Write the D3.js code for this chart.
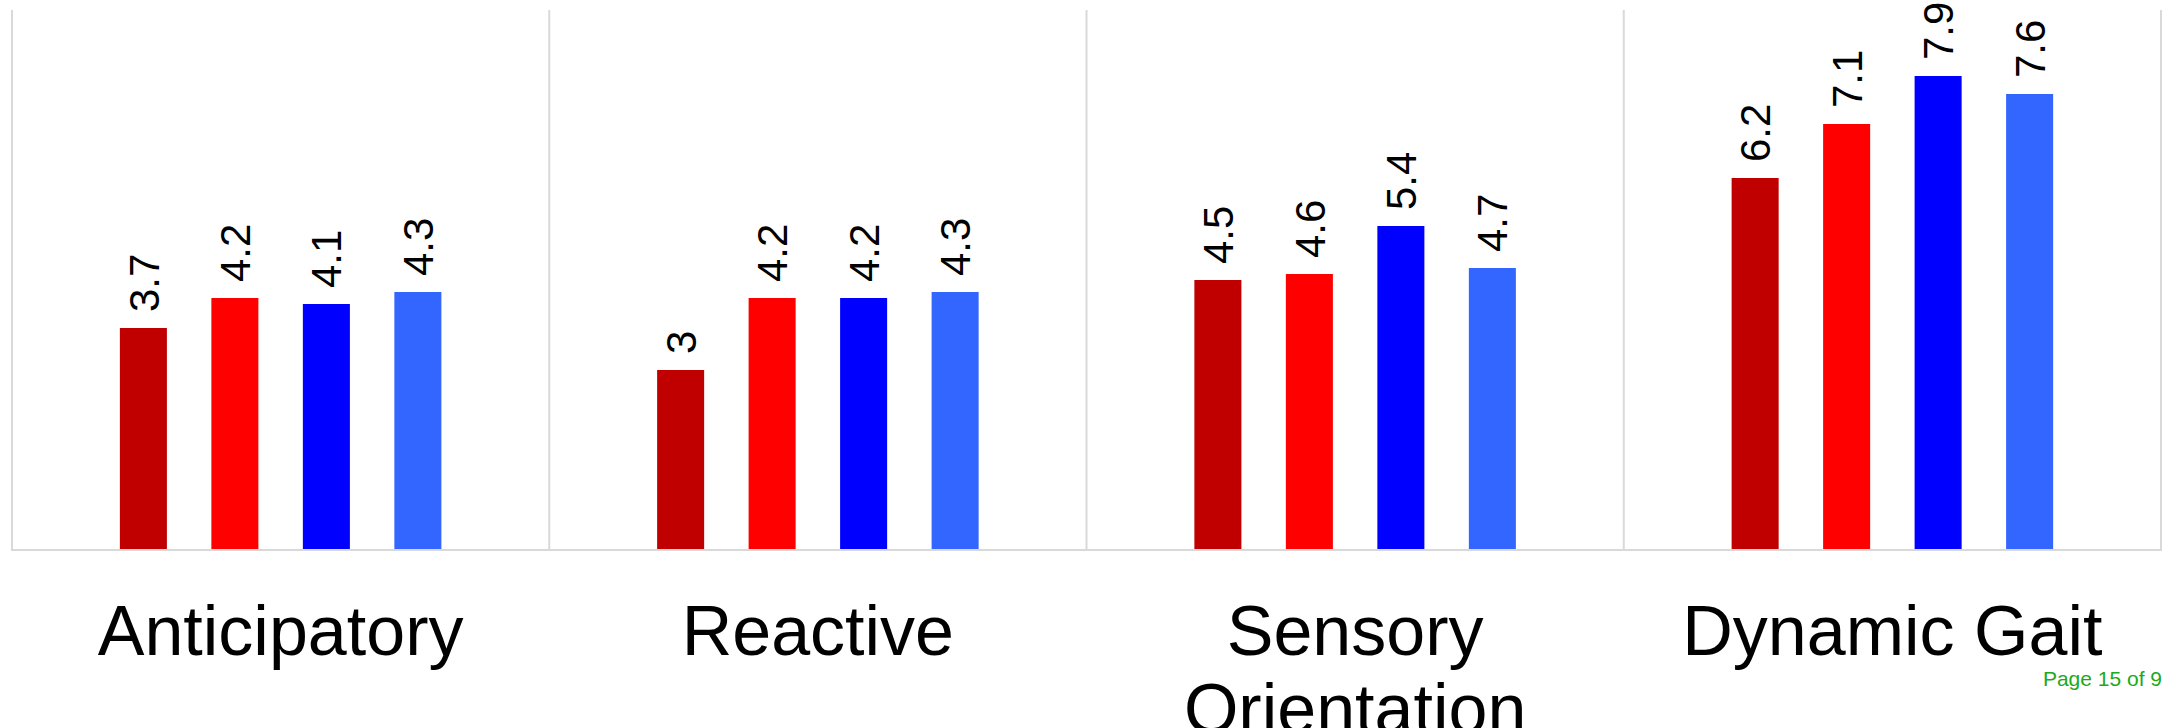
<!DOCTYPE html>
<html>
<head>
<meta charset="utf-8">
<script src="https://cdn.jsdelivr.net/npm/d3@7"></script>
<style>
  html, body { margin: 0; padding: 0; background: #ffffff; }
  svg { display: block; font-family: "Liberation Sans", Arial, sans-serif; }
</style>
</head>
<body>
<svg id="chart" width="2163" height="728"></svg>
<script>
// ---- data ----
const categories = ["Anticipatory", "Reactive", "Sensory Orientation", "Dynamic Gait"];
const seriesNames = ["Series 1", "Series 2", "Series 3", "Series 4"];
const seriesColors = ["#C00000", "#FF0000", "#0000FF", "#3366FF"];
const series1 = [3.7, 3, 4.5, 6.2];
const series2 = [4.2, 4.2, 4.6, 7.1];
const series3 = [4.1, 4.2, 5.4, 7.9];
const series4 = [4.3, 4.3, 4.7, 7.6];
const yDomain = [0, 9];
const footerText = "Page 15 of 9";

const seriesValues = [series1, series2, series3, series4];
const rows = [];
categories.forEach((c, ci) => {
  seriesNames.forEach((s, si) => {
    rows.push({ cat: c, series: s, si: si, value: seriesValues[si][ci] });
  });
});

// ---- layout ----
const plot = { left: 12, right: 2161, top: 10, bottom: 550 };
const svg = d3.select("#chart");

const x = d3.scaleBand().domain(categories).range([plot.left, plot.right]).padding(0);
const xs = d3.scaleBand().domain(seriesNames).range([0, x.bandwidth()])
  .paddingInner(0.486).paddingOuter(1.179);
const y = d3.scaleLinear().domain(yDomain).range([plot.bottom, plot.top]);

const gridColor = "#d9d9d9";

// vertical dividers between categories
const bounds = categories.map(c => x(c)).concat([x.range()[1]]);
svg.append("g").selectAll("line").data(bounds).join("line")
  .attr("x1", d => d).attr("x2", d => d)
  .attr("y1", plot.top).attr("y2", plot.bottom + 1)
  .attr("stroke", gridColor).attr("stroke-width", 2);

// bars
svg.append("g").selectAll("rect").data(rows).join("rect")
  .attr("x", d => x(d.cat) + xs(d.series))
  .attr("width", xs.bandwidth())
  .attr("y", d => y(d.value))
  .attr("height", d => y(0) - y(d.value))
  .attr("fill", d => seriesColors[d.si]);

// baseline axis
const axis = d3.axisBottom(x).tickSize(0).tickFormat("");
const axG = svg.append("g").attr("transform", `translate(0,${plot.bottom})`).call(axis);
axG.select(".domain").attr("stroke", gridColor).attr("stroke-width", 2)
  .attr("d", `M${plot.left - 1},0H${plot.right + 1}`);

// value labels (rotated)
svg.append("g").selectAll("text").data(rows).join("text")
  .attr("transform", d => {
    const cx = x(d.cat) + xs(d.series) + xs.bandwidth() / 2;
    const ty = y(d.value) - 16;
    return `translate(${cx},${ty}) rotate(-90)`;
  })
  .attr("dy", "0.36em")
  .attr("text-anchor", "start")
  .attr("font-size", 42)
  .attr("fill", "#000")
  .text(d => String(d.value));

// category labels with wrapping
const labelG = svg.append("g");
categories.forEach(c => {
  const cx = x(c) + x.bandwidth() / 2;
  const t = labelG.append("text")
    .attr("x", cx).attr("y", 655)
    .attr("text-anchor", "middle")
    .attr("font-size", 70)
    .attr("fill", "#000");
  const words = c.split(" ");
  let line = [];
  let tspan = t.append("tspan").attr("x", cx).attr("dy", 0);
  words.forEach(w => {
    line.push(w);
    tspan.text(line.join(" "));
    if (tspan.node().getComputedTextLength() > x.bandwidth() * 0.95 && line.length > 1) {
      line.pop();
      tspan.text(line.join(" "));
      line = [w];
      tspan = t.append("tspan").attr("x", cx).attr("dy", "1.11em").text(w);
    }
  });
});

// footer
svg.append("text")
  .attr("x", 2162).attr("y", 686)
  .attr("text-anchor", "end")
  .attr("font-size", 21)
  .attr("fill", "#1aaa1a")
  .text(footerText);
</script>
</body>
</html>
